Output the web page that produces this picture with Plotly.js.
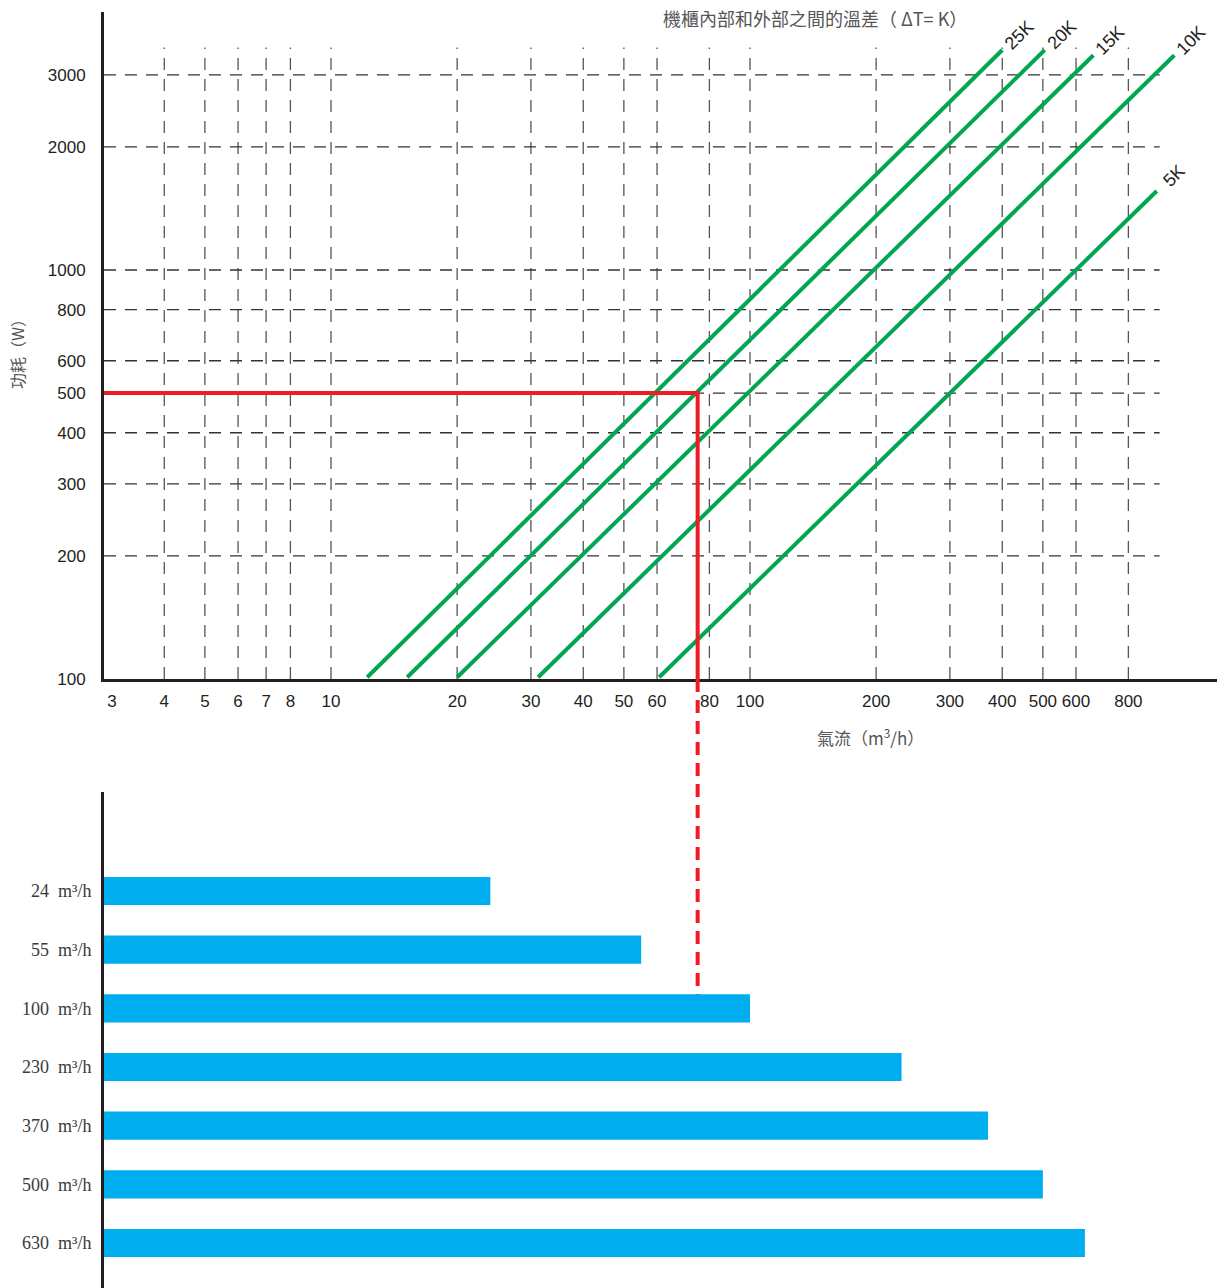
<!DOCTYPE html>
<html>
<head>
<meta charset="utf-8">
<script src="https://cdn.plot.ly/plotly-3.0.1.min.js"></script>
<style>html,body{margin:0;padding:0;background:#fff;}#chart{width:1217px;height:1288px;}</style>
</head>
<body>
<div id="chart"></div>
<script>
// ---------- data ----------
const xTicks = [3, 4, 5, 6, 7, 8, 10, 20, 30, 40, 50, 60, 80, 100, 200, 300, 400, 500, 600, 800];
const xTickText = ['3', '4', '5', '6', '7', '8', '10', '20', '30', '40', '50', '60', '80', '100', '200', '300', '400', '500', '600', '800'];
const yTicks = [100, 200, 300, 400, 500, 600, 800, 1000, 2000, 3000];
const yTickText = ['100', '200', '300', '400', '500', '600', '800', '1000', '2000', '3000'];

const dtLabels = ['25K', '20K', '15K', '10K', '5K'];
const flowStart = [12.2, 15.2, 20, 31.2, 60.7];
const flowEnd = [400, 505, 660, 1030, 935];
const powerStart = [101, 101, 101, 101, 101];
const powerEnd = [3450, 3450, 3350, 3350, 1560];

const exampleFlow = 75;    // m3/h
const examplePower = 500;  // W

const fanLabels = ['24  m³/h', '55  m³/h', '100  m³/h', '230  m³/h', '370  m³/h', '500  m³/h', '630  m³/h'];
const fanFlow = [24, 55, 100, 230, 370, 500, 630];

// ---------- layout constants ----------
const W = 1217, H = 1288;
const xLogRange = [0.4582, 3.1146];
const yLogRange = [2, 3.6308];
const xLeft = Math.pow(10, xLogRange[0]);
const gridTop = 3500;
const gridRight = 950;

const green = '#00a651';
const red = '#ee1c25';
const blue = '#00aeef';
const ink = '#231f20';

const traces = [];

// gridlines (built from tick arrays)
const gx = [], gy = [];
xTicks.slice(1).forEach(v => { gx.push(v, v, null); gy.push(yTicks[0], gridTop, null); });
traces.push({x: gx, y: gy, mode: 'lines', xaxis: 'x', yaxis: 'y', hoverinfo: 'skip',
  line: {color: '#555', width: 1.3, dash: '12px,9px'}});
const hx = [], hy = [];
yTicks.slice(1).forEach(v => { hx.push(xLeft, gridRight, null); hy.push(v, v, null); });
traces.push({x: hx, y: hy, mode: 'lines', xaxis: 'x', yaxis: 'y', hoverinfo: 'skip',
  line: {color: '#333', width: 1.3, dash: '12px,9px'}});

// green temperature-difference lines
dtLabels.forEach((lab, i) => {
  traces.push({x: [flowStart[i], flowEnd[i]], y: [powerStart[i], powerEnd[i]], mode: 'lines',
    xaxis: 'x', yaxis: 'y', name: lab, line: {color: green, width: 4}});
});

// red example path
traces.push({x: [xLeft, exampleFlow, exampleFlow], y: [examplePower, examplePower, yTicks[0]],
  mode: 'lines', xaxis: 'x', yaxis: 'y', line: {color: red, width: 4}, cliponaxis: false});
// red dashed continuation down to the fan bars
traces.push({x: [exampleFlow, exampleFlow], y: [1, 0], mode: 'lines', xaxis: 'x', yaxis: 'y3',
  line: {color: red, width: 4, dash: '13px,8px'}});

// fan bars
traces.push({type: 'bar', orientation: 'h', x: fanFlow, y: fanLabels, xaxis: 'x2', yaxis: 'y2',
  marker: {color: blue}, width: 0.48});

// annotations
const annotations = [];
dtLabels.forEach((lab, i) => {
  annotations.push({x: Math.log10(flowEnd[i]), y: Math.log10(powerEnd[i]), xref: 'x', yref: 'y',
    text: lab, showarrow: false, textangle: -45, xshift: 17, yshift: 15,
    font: {family: 'Liberation Sans, Arial, sans-serif', size: 18, color: ink}});
});
annotations.push({x: 815 / W, y: 1 - 18 / H, xref: 'paper', yref: 'paper', showarrow: false,
  text: '機櫃內部和外部之間的溫差（ ΔT= K）', xanchor: 'center', yanchor: 'middle',
  font: {family: 'Noto Sans CJK TC, sans-serif', size: 18, color: '#555'}});
annotations.push({x: 870 / W, y: 1 - 737 / H, xref: 'paper', yref: 'paper', showarrow: false,
  text: '氣流（m<sup>3</sup>/h）', xanchor: 'center', yanchor: 'middle',
  font: {family: 'Noto Sans CJK TC, sans-serif', size: 17, color: '#555'}});
annotations.push({x: 17 / W, y: 1 - 350 / H, xref: 'paper', yref: 'paper', showarrow: false,
  text: '功耗（W）', textangle: -90, xanchor: 'center', yanchor: 'middle',
  font: {family: 'Noto Sans CJK TC, sans-serif', size: 16, color: '#555'}});

const tickFont = {family: 'Liberation Sans, Arial, sans-serif', size: 17, color: ink};
const xDom = [104 / W, 1];

const layout = {
  width: W, height: H,
  margin: {l: 0, r: 0, t: 0, b: 0, pad: 0},
  paper_bgcolor: '#fff', plot_bgcolor: 'rgba(0,0,0,0)',
  showlegend: false,
  xaxis: {type: 'log', range: xLogRange, domain: xDom, anchor: 'y',
    tickmode: 'array', tickvals: xTicks, ticktext: xTickText, ticks: '',
    showgrid: false, zeroline: false, showline: true, linecolor: ink, linewidth: 3,
    tickfont: tickFont, ticklabelstandoff: 5},
  yaxis: {type: 'log', range: yLogRange, domain: [1 - 679 / H, 1 - 12 / H], anchor: 'x',
    tickmode: 'array', tickvals: yTicks, ticktext: yTickText, ticks: '',
    showgrid: false, zeroline: false, showline: true, linecolor: ink, linewidth: 3,
    tickfont: tickFont, ticklabelstandoff: 12},
  yaxis3: {domain: [1 - 1004 / H, 1 - 679 / H], anchor: 'x', range: [0, 1], visible: false,
    showgrid: false, zeroline: false},
  xaxis2: {type: 'log', range: xLogRange, domain: xDom, anchor: 'y2', visible: false,
    showgrid: false, zeroline: false},
  yaxis2: {type: 'category', domain: [0, 1 - 792 / H], anchor: 'x2', range: [6.767, -1.687],
    ticks: '', showgrid: false, zeroline: false, showline: true, linecolor: ink, linewidth: 3,
    tickfont: {family: 'Liberation Serif, DejaVu Serif, serif', size: 18, color: '#3a3a3a'},
    ticklabelstandoff: 6},
  annotations: annotations
};

Plotly.newPlot('chart', traces, layout, {displayModeBar: false, staticPlot: true});
</script>
</body>
</html>
